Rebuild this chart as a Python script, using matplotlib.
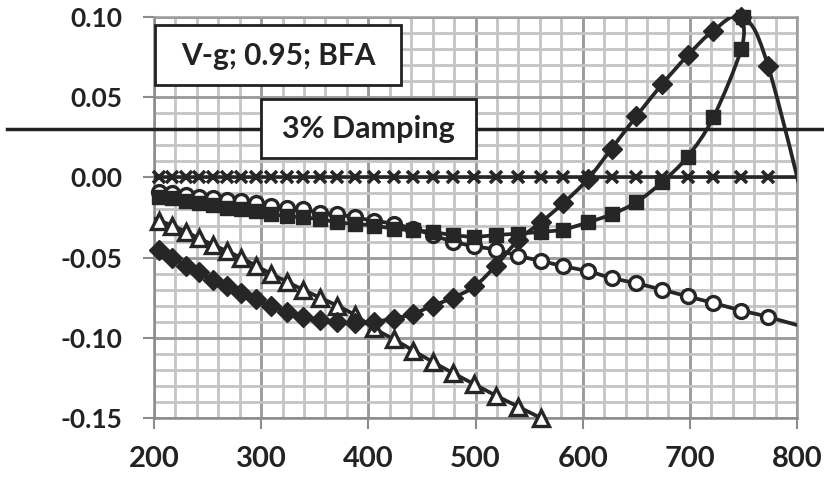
import matplotlib
matplotlib.use("Agg")
import matplotlib.pyplot as plt
import numpy as np
from matplotlib.path import Path
from matplotlib.patches import PathPatch, Rectangle
from matplotlib.ticker import MultipleLocator
from matplotlib.transforms import blended_transform_factory
from matplotlib.lines import Line2D

# ---------------- data ----------------
speed = [205, 217, 230, 242, 255, 268, 281, 295, 309, 324, 339, 355, 371, 388,
         405, 424, 442, 460, 479, 499, 519, 540, 561, 582, 605, 627, 650, 674, 698,
         722, 748, 773]

cross_vals = [0.0] * len(speed)

triangle_speed = speed[:23]
triangle_vals = [-0.027, -0.030, -0.034, -0.038, -0.042, -0.046, -0.050, -0.055,
                 -0.060, -0.065, -0.070, -0.075, -0.080, -0.086, -0.094, -0.101, -0.108,
                 -0.115, -0.122, -0.129, -0.136, -0.143, -0.150]

diamond_speed = speed
diamond_vals = [-0.045, -0.050, -0.055, -0.059, -0.064, -0.068, -0.072, -0.076,
                -0.080, -0.084, -0.087, -0.089, -0.090, -0.091, -0.090, -0.088, -0.085,
                -0.080, -0.075, -0.068, -0.055, -0.039, -0.028, -0.016, -0.001, 0.018,
                0.038, 0.058, 0.076, 0.0915, 0.0998, 0.0695]

circle_speed = speed
circle_vals = [-0.009, -0.010, -0.011, -0.012, -0.013, -0.014, -0.015, -0.016,
               -0.018, -0.019, -0.020, -0.022, -0.023, -0.025, -0.027, -0.029, -0.032,
               -0.036, -0.040, -0.043, -0.045, -0.049, -0.052, -0.0554, -0.0585, -0.0627,
               -0.066, -0.070, -0.0742, -0.0783, -0.083, -0.087]

square_speed = speed[:31] + [750]
square_vals = [-0.012, -0.013, -0.015, -0.016, -0.017, -0.019, -0.020, -0.021,
               -0.023, -0.024, -0.025, -0.026, -0.028, -0.029, -0.030, -0.032, -0.033,
               -0.034, -0.036, -0.037, -0.036, -0.035, -0.034, -0.0325, -0.028, -0.023,
               -0.0155, -0.003, 0.013, 0.0375, 0.080, 0.0998]

# points lying outside the plotted range (only their lines show, clipped at the axes)
lead_speed = 190
triangle_lead, diamond_lead, circle_lead, square_lead = -0.023, -0.040, -0.008, -0.011
tail_speed = 826
diamond_tail = -0.070
circle_tail = -0.097

damping_level = 0.03
x_ticks = [200, 300, 400, 500, 600, 700, 800]
y_ticks = [-0.15, -0.10, -0.05, 0.00, 0.05, 0.10]
y_tick_labels = ["-0.15", "-0.10", "-0.05", "0.00", "0.05", "0.10"]
title_text = "V-g; 0.95; BFA"
damping_text = "3% Damping"

# ---------------- style ----------------
FONT = ["Lato", "DejaVu Sans"]
INK = "#262626"
W, H = 824, 488

fig = plt.figure(figsize=(W / 100, H / 100), dpi=100)
ax = fig.add_axes([154 / W, 1 - 418 / H, (797 - 154) / W, (418 - 17) / H])
ax.set_xlim(200, 800)
ax.set_ylim(-0.15, 0.10)

ax.set_xticks(x_ticks)
ax.set_xticklabels([str(v) for v in x_ticks], fontfamily=FONT, fontweight="bold",
                   fontsize=21, color="#222222")
ax.set_yticks(y_ticks)
ax.set_yticklabels(y_tick_labels, fontfamily=FONT, fontweight="bold", fontsize=19,
                   color="#222222")
ax.xaxis.set_minor_locator(MultipleLocator(20))
ax.yaxis.set_minor_locator(MultipleLocator(0.01))
ax.tick_params(which="major", length=8, width=1.5, color="#8c8c8c", direction="out")
ax.tick_params(axis="x", which="major", pad=12)
ax.tick_params(axis="y", which="major", pad=15)
ax.tick_params(which="minor", length=0)
ax.grid(which="minor", color="#c4c4c4", lw=2.0, zorder=0)
ax.grid(which="major", color="#9c9c9c", lw=2.1, zorder=0)
ax.set_axisbelow(True)
for s in ["top", "right"]:
    ax.spines[s].set_color("#9c9c9c")
    ax.spines[s].set_linewidth(1.8)
for s in ["left", "bottom"]:
    ax.spines[s].set_color("#8c8c8c")
    ax.spines[s].set_linewidth(1.8)


def smooth_line(xs, ys, **kw):
    pts = np.column_stack([xs, ys]).astype(float)
    n = len(pts)
    verts = [pts[0]]
    codes = [Path.MOVETO]
    for i in range(n - 1):
        p0 = pts[i - 1] if i > 0 else pts[i]
        p1 = pts[i]
        p2 = pts[i + 1]
        p3 = pts[i + 2] if i + 2 < n else pts[i + 1]
        c1 = p1 + (p2 - p0) / 6.0
        c2 = p2 - (p3 - p1) / 6.0
        verts += [c1, c2, p2]
        codes += [Path.CURVE4] * 3
    patch = PathPatch(Path(verts, codes), fill=False, transform=ax.transData,
                      capstyle="round", joinstyle="round", **kw)
    ax.add_patch(patch)
    patch.set_clip_path(ax.patch)
    return patch


LW = 2.7
MK = dict(ls="none", clip_on=False)

# y = 0 line and crosses
ax.axhline(0, color=INK, lw=2.6, zorder=3)
ax.plot(speed, cross_vals, marker="x", ms=9, mew=2.6, color=INK, zorder=4, **MK)

# circles
smooth_line([lead_speed] + circle_speed + [tail_speed],
            [circle_lead] + circle_vals + [circle_tail], color=INK, lw=LW, zorder=4)
ax.plot(circle_speed, circle_vals, marker="o", ms=10, mew=2.4,
        mfc="white", mec=INK, zorder=5, **MK)

# triangles
smooth_line([lead_speed] + triangle_speed, [triangle_lead] + triangle_vals,
            color=INK, lw=LW, zorder=4)
ax.plot(triangle_speed, triangle_vals, marker="^", ms=11, mew=2.4,
        mfc="white", mec=INK, zorder=5, **MK)

# squares
smooth_line([lead_speed] + square_speed, [square_lead] + square_vals,
            color=INK, lw=LW, zorder=6)
ax.plot(square_speed, square_vals, marker="s", ms=10.5, mew=1.0,
        mfc=INK, mec=INK, zorder=7, **MK)

# diamonds
smooth_line([lead_speed] + diamond_speed + [tail_speed],
            [diamond_lead] + diamond_vals + [diamond_tail], color=INK, lw=LW, zorder=8)
ax.plot(diamond_speed, diamond_vals, marker="D", ms=9.8, mew=1.0,
        mfc=INK, mec=INK, zorder=9, **MK)

# 3% damping line across the whole figure
tr = blended_transform_factory(fig.transFigure, ax.transData)
dl = Line2D([7 / W, 1.0], [damping_level, damping_level], transform=tr,
            color="#222222", lw=2.5, clip_on=False, zorder=10)
ax.add_line(dl)


def box(x0, y0, x1, y1, text, baseline_y, size):
    r = Rectangle((x0 / W, 1 - y1 / H), (x1 - x0) / W, (y1 - y0) / H,
                  transform=fig.transFigure, facecolor="white", edgecolor="#222222",
                  lw=2.0, zorder=20)
    fig.add_artist(r)
    fig.text((x0 + x1) / 2 / W, 1 - baseline_y / H, text, ha="center", va="baseline",
             fontfamily=FONT, fontweight="bold", fontsize=size, color="#222222",
             zorder=21)


box(155, 25, 401, 85, title_text, 65, 21.5)
box(261, 99, 476, 158, damping_text, 138, 22)

fig.savefig("out.png", dpi=100)
